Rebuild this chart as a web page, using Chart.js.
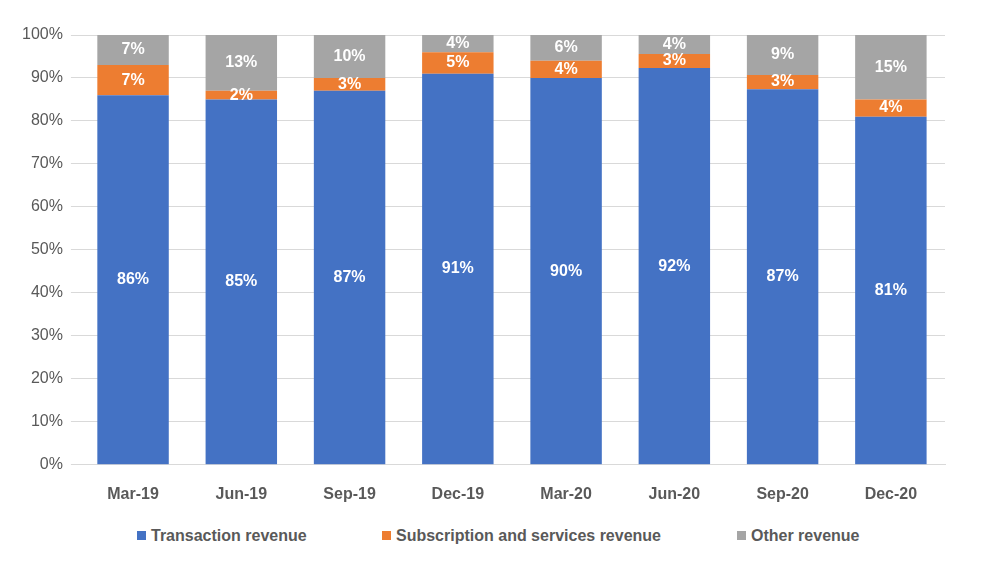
<!DOCTYPE html>
<html><head><meta charset="utf-8">
<script src="https://cdn.jsdelivr.net/npm/chart.js@4"></script>
<style>html,body{margin:0;background:#fff}#w{width:1000px;height:586px;position:relative}#cw{width:1000px;height:522px;position:relative}
.lg{position:absolute;top:527px;font:bold 16px Arial,"Liberation Sans";color:#595959;white-space:nowrap}
.lg i{display:inline-block;width:9px;height:9px;margin-right:5px;vertical-align:1px}</style>
</head><body><div id="w"><div id="cw"><canvas id="c"></canvas></div>
<div class="lg" style="left:137px"><i style="background:#4472C4"></i>Transaction revenue</div>
<div class="lg" style="left:382px"><i style="background:#ED7D31"></i>Subscription and services revenue</div>
<div class="lg" style="left:737px"><i style="background:#A5A5A5"></i>Other revenue</div>
</div>
<script>
const categories=["Mar-19","Jun-19","Sep-19","Dec-19","Mar-20","Jun-20","Sep-20","Dec-20"];
const transaction=[86,85,87,91,90,92.3,87.4,81];
const subscription=[7,2,3,5,4,3.3,3.3,4];
const other=[7,13,10,4,6,4.4,9.3,15];
const yTicks=[0,10,20,30,40,50,60,70,80,90,100];
const labelPlugin={id:'lbl',afterDatasetsDraw(ch){const x=ch.ctx;x.save();x.fillStyle='#fff';x.font='bold 16px Arial, "Liberation Sans"';x.textAlign='center';x.textBaseline='middle';
ch.data.datasets.forEach((d,i)=>{ch.getDatasetMeta(i).data.forEach((b,j)=>{const y=(b.y+b.base)/2;x.fillText(Math.round(d.data[j])+'%',b.x,y);});});x.restore();}};
new Chart(document.getElementById('c'),{type:'bar',
data:{labels:categories,datasets:[
{label:'Transaction revenue',data:transaction,backgroundColor:'#4472C4'},
{label:'Subscription and services revenue',data:subscription,backgroundColor:'#ED7D31'},
{label:'Other revenue',data:other,backgroundColor:'#A5A5A5'}]},
options:{responsive:true,maintainAspectRatio:false,animation:false,
layout:{padding:{left:14,right:55,top:35,bottom:6}},
datasets:{bar:{categoryPercentage:0.66,barPercentage:1}},
scales:{x:{stacked:true,grid:{display:false},border:{color:'#d9d9d9'},ticks:{color:'#595959',font:{size:16,weight:'bold',family:'Arial, "Liberation Sans"'},padding:12}},
y:{stacked:true,min:0,max:100,afterBuildTicks(a){a.ticks=yTicks.map(v=>({value:v}));},grid:{color:'#d9d9d9'},border:{display:false},ticks:{color:'#595959',font:{size:16,family:'Arial, "Liberation Sans"'},callback:v=>v+'%',padding:8}}},
plugins:{legend:{display:false},tooltip:{enabled:false}}},
plugins:[labelPlugin]});
</script></body></html>
